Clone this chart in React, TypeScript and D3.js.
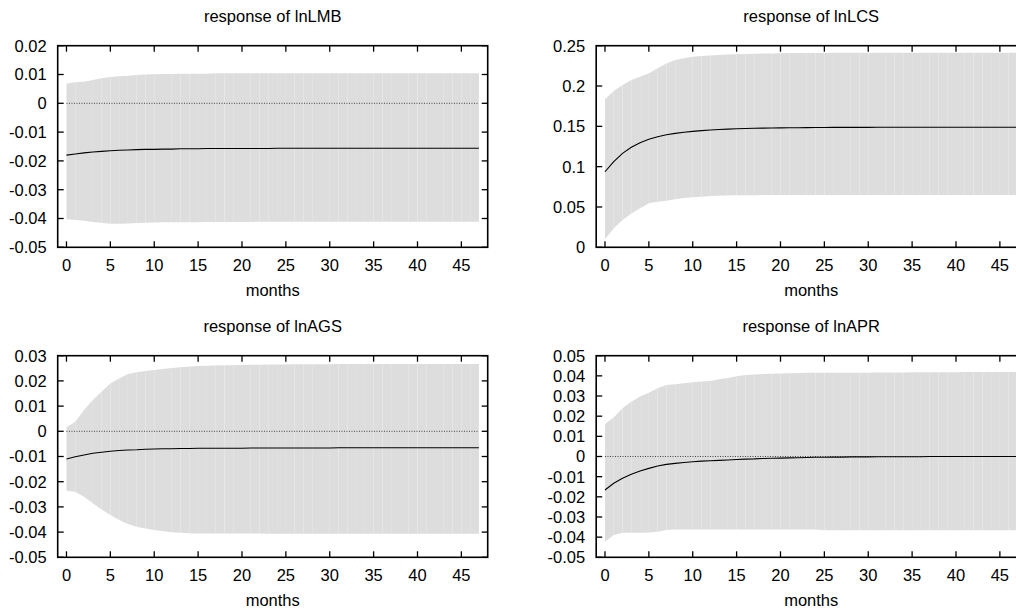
import React from "react";
import * as d3 from "d3";

const horizons: number[] = Array.from({ length: 48 }, (_, i) => i);

const xTicks = [0, 5, 10, 15, 20, 25, 30, 35, 40, 45];

// lnLMB
const lmbLine = [-0.0180, -0.0176, -0.0172, -0.0169, -0.0167, -0.0165, -0.0163, -0.0162, -0.0161, -0.0160, -0.0160, -0.0159, -0.0159, -0.0158, -0.0158, -0.0158, -0.0157, -0.0157, -0.0157, -0.0157, -0.0157, -0.0157, -0.0157, -0.0157, -0.0156, -0.0156, -0.0156, -0.0156, -0.0156, -0.0156, -0.0156, -0.0156, -0.0156, -0.0156, -0.0156, -0.0156, -0.0156, -0.0156, -0.0156, -0.0156, -0.0156, -0.0156, -0.0156, -0.0156, -0.0156, -0.0156, -0.0156, -0.0156];
const lmbUpper = [0.0069, 0.0073, 0.0075, 0.0081, 0.0087, 0.0091, 0.0094, 0.0096, 0.0098, 0.0100, 0.0101, 0.0102, 0.0102, 0.0103, 0.0103, 0.0103, 0.0103, 0.0104, 0.0104, 0.0104, 0.0104, 0.0104, 0.0104, 0.0104, 0.0104, 0.0104, 0.0104, 0.0104, 0.0104, 0.0104, 0.0104, 0.0104, 0.0104, 0.0104, 0.0104, 0.0104, 0.0104, 0.0104, 0.0104, 0.0104, 0.0104, 0.0104, 0.0104, 0.0104, 0.0104, 0.0104, 0.0104, 0.0104];
const lmbLower = [-0.0403, -0.0405, -0.0408, -0.0412, -0.0415, -0.0418, -0.0418, -0.0417, -0.0416, -0.0415, -0.0414, -0.0413, -0.0413, -0.0413, -0.0413, -0.0413, -0.0412, -0.0412, -0.0412, -0.0412, -0.0412, -0.0412, -0.0411, -0.0411, -0.0411, -0.0411, -0.0411, -0.0411, -0.0411, -0.0411, -0.0411, -0.0411, -0.0411, -0.0411, -0.0411, -0.0411, -0.0411, -0.0411, -0.0411, -0.0411, -0.0411, -0.0411, -0.0411, -0.0411, -0.0411, -0.0411, -0.0411, -0.0411];

// lnLCS
const lcsLine = [0.0937, 0.1062, 0.1165, 0.1240, 0.1297, 0.1339, 0.1372, 0.1396, 0.1413, 0.1427, 0.1438, 0.1447, 0.1455, 0.1461, 0.1466, 0.1470, 0.1473, 0.1476, 0.1478, 0.1480, 0.1481, 0.1482, 0.1483, 0.1484, 0.1485, 0.1486, 0.1487, 0.1487, 0.1487, 0.1487, 0.1487, 0.1488, 0.1488, 0.1488, 0.1488, 0.1488, 0.1488, 0.1488, 0.1488, 0.1488, 0.1488, 0.1488, 0.1488, 0.1488, 0.1488, 0.1488, 0.1488, 0.1488];
const lcsUpper = [0.1835, 0.1938, 0.2013, 0.2075, 0.2116, 0.2158, 0.2220, 0.2280, 0.2323, 0.2344, 0.2364, 0.2372, 0.2380, 0.2386, 0.2390, 0.2394, 0.2397, 0.2400, 0.2402, 0.2404, 0.2406, 0.2408, 0.2409, 0.2410, 0.2410, 0.2411, 0.2412, 0.2412, 0.2412, 0.2412, 0.2412, 0.2412, 0.2412, 0.2412, 0.2412, 0.2412, 0.2412, 0.2412, 0.2412, 0.2412, 0.2412, 0.2412, 0.2412, 0.2412, 0.2412, 0.2412, 0.2412, 0.2412];
const lcsLower = [0.0100, 0.0236, 0.0339, 0.0420, 0.0483, 0.0545, 0.0565, 0.0578, 0.0595, 0.0610, 0.0620, 0.0628, 0.0636, 0.0640, 0.0643, 0.0645, 0.0646, 0.0647, 0.0648, 0.0648, 0.0649, 0.0649, 0.0649, 0.0650, 0.0650, 0.0650, 0.0650, 0.0650, 0.0650, 0.0650, 0.0650, 0.0650, 0.0650, 0.0650, 0.0650, 0.0650, 0.0650, 0.0650, 0.0650, 0.0650, 0.0650, 0.0650, 0.0650, 0.0650, 0.0650, 0.0650, 0.0650, 0.0650];

// lnAGS
const agsLine = [-0.0110, -0.0101, -0.0094, -0.0087, -0.0083, -0.0079, -0.0076, -0.0074, -0.0073, -0.0071, -0.0070, -0.0069, -0.0069, -0.0068, -0.0068, -0.0067, -0.0067, -0.0067, -0.0067, -0.0067, -0.0067, -0.0066, -0.0066, -0.0066, -0.0066, -0.0066, -0.0066, -0.0066, -0.0066, -0.0066, -0.0066, -0.0065, -0.0065, -0.0065, -0.0065, -0.0065, -0.0065, -0.0065, -0.0065, -0.0065, -0.0065, -0.0065, -0.0065, -0.0065, -0.0065, -0.0065, -0.0065, -0.0065];
const agsUpper = [0.0016, 0.0038, 0.0085, 0.0124, 0.0157, 0.0190, 0.0210, 0.0227, 0.0234, 0.0239, 0.0243, 0.0247, 0.0251, 0.0254, 0.0257, 0.0259, 0.0260, 0.0261, 0.0262, 0.0262, 0.0263, 0.0264, 0.0264, 0.0265, 0.0265, 0.0265, 0.0266, 0.0266, 0.0266, 0.0266, 0.0266, 0.0267, 0.0267, 0.0267, 0.0267, 0.0267, 0.0267, 0.0267, 0.0267, 0.0267, 0.0267, 0.0267, 0.0267, 0.0267, 0.0267, 0.0267, 0.0267, 0.0267];
const agsLower = [-0.0236, -0.0240, -0.0260, -0.0286, -0.0310, -0.0332, -0.0352, -0.0368, -0.0379, -0.0386, -0.0392, -0.0397, -0.0401, -0.0403, -0.0405, -0.0406, -0.0406, -0.0406, -0.0406, -0.0406, -0.0406, -0.0406, -0.0406, -0.0407, -0.0407, -0.0407, -0.0407, -0.0407, -0.0407, -0.0407, -0.0407, -0.0407, -0.0407, -0.0407, -0.0407, -0.0407, -0.0407, -0.0407, -0.0407, -0.0407, -0.0407, -0.0407, -0.0407, -0.0407, -0.0407, -0.0407, -0.0407, -0.0407];

// lnAPR
const aprLine = [-0.0166, -0.0133, -0.0108, -0.0088, -0.0072, -0.0059, -0.0047, -0.0039, -0.0034, -0.0030, -0.0026, -0.0023, -0.0021, -0.0019, -0.0017, -0.0015, -0.0013, -0.0012, -0.0010, -0.0009, -0.0008, -0.0007, -0.0006, -0.0005, -0.0004, -0.0004, -0.0003, -0.0003, -0.0002, -0.0002, -0.0002, -0.0001, -0.0001, -0.0001, -0.0001, -0.0001, -0.0001, 0.0000, 0.0000, 0.0000, 0.0000, 0.0000, 0.0000, 0.0000, 0.0000, 0.0000, 0.0000, 0.0000];
const aprUpper = [0.0161, 0.0194, 0.0239, 0.0272, 0.0297, 0.0316, 0.0338, 0.0355, 0.0358, 0.0363, 0.0368, 0.0372, 0.0375, 0.0383, 0.0389, 0.0398, 0.0404, 0.0407, 0.0409, 0.0410, 0.0412, 0.0413, 0.0414, 0.0415, 0.0416, 0.0416, 0.0416, 0.0416, 0.0416, 0.0416, 0.0416, 0.0417, 0.0417, 0.0417, 0.0417, 0.0418, 0.0418, 0.0418, 0.0418, 0.0418, 0.0418, 0.0419, 0.0419, 0.0419, 0.0419, 0.0419, 0.0419, 0.0419];
const aprLower = [-0.0423, -0.0389, -0.0378, -0.0378, -0.0378, -0.0377, -0.0373, -0.0364, -0.0362, -0.0362, -0.0362, -0.0362, -0.0362, -0.0362, -0.0362, -0.0362, -0.0362, -0.0362, -0.0362, -0.0362, -0.0362, -0.0362, -0.0362, -0.0362, -0.0362, -0.0366, -0.0366, -0.0366, -0.0366, -0.0366, -0.0366, -0.0366, -0.0366, -0.0366, -0.0366, -0.0366, -0.0366, -0.0366, -0.0366, -0.0366, -0.0366, -0.0366, -0.0366, -0.0366, -0.0366, -0.0366, -0.0366, -0.0366];

const lmbTicks = [-0.05, -0.04, -0.03, -0.02, -0.01, 0, 0.01, 0.02];
const lmbTickLabels = ["-0.05", "-0.04", "-0.03", "-0.02", "-0.01", "0", "0.01", "0.02"];
const lcsTicks = [0, 0.05, 0.1, 0.15, 0.2, 0.25];
const lcsTickLabels = ["0", "0.05", "0.1", "0.15", "0.2", "0.25"];
const agsTicks = [-0.05, -0.04, -0.03, -0.02, -0.01, 0, 0.01, 0.02, 0.03];
const agsTickLabels = ["-0.05", "-0.04", "-0.03", "-0.02", "-0.01", "0", "0.01", "0.02", "0.03"];
const aprTicks = [-0.05, -0.04, -0.03, -0.02, -0.01, 0, 0.01, 0.02, 0.03, 0.04, 0.05];
const aprTickLabels = ["-0.05", "-0.04", "-0.03", "-0.02", "-0.01", "0", "0.01", "0.02", "0.03", "0.04", "0.05"];

const FONT = "'Liberation Sans', Arial, Helvetica, sans-serif";
const FS = 16.5;
const W = 430;
const H = 201.6;

type PanelProps = {
  left: number;
  top: number;
  title: string;
  line: number[];
  upper: number[];
  lower: number[];
  yDomain: [number, number];
  yTicks: number[];
  yLabels: string[];
};

function Panel({ left, top, title, line, upper, lower, yDomain, yTicks, yLabels }: PanelProps) {
  const x = d3.scaleLinear().domain([-1, 48]).range([left, left + W]);
  const y = d3.scaleLinear().domain(yDomain).range([top + H, top]);
  const lineGen = d3
    .line<number>()
    .x((_, i) => x(horizons[i]))
    .y((d) => y(d));
  const segs = horizons.slice(0, -1).map((h, i) => {
    const pts: [number, number][] = [
      [x(h), y(upper[i])],
      [x(h + 1), y(upper[i + 1])],
      [x(h + 1), y(lower[i + 1])],
      [x(h), y(lower[i])],
    ];
    return "M" + pts.map((p) => p.join(",")).join("L") + "Z";
  });
  const tl = 6;
  return (
    <g>
      {segs.map((d, i) => (
        <path key={i} d={d} fill="#dddddd" stroke="none" />
      ))}
      <line
        x1={x(0)}
        x2={x(47)}
        y1={y(0)}
        y2={y(0)}
        stroke="#444"
        strokeWidth={1}
        strokeDasharray="1 1.5"
      />
      <path d={lineGen(line) || ""} fill="none" stroke="#000" strokeWidth={1.1} />
      {xTicks.map((t) => (
        <g key={"x" + t}>
          <line x1={x(t)} x2={x(t)} y1={top + H} y2={top + H - tl} stroke="#000" strokeWidth={1.3} />
          <line x1={x(t)} x2={x(t)} y1={top} y2={top + tl} stroke="#000" strokeWidth={1.3} />
          <text
            x={x(t)}
            y={top + H + 23.5}
            textAnchor="middle"
            fontFamily={FONT}
            fontSize={FS}
            fill="#000"
          >
            {t}
          </text>
        </g>
      ))}
      {yTicks.map((t, i) => (
        <g key={"y" + i}>
          <line x1={left} x2={left + tl} y1={y(t)} y2={y(t)} stroke="#000" strokeWidth={1.3} />
          <line x1={left + W} x2={left + W - tl} y1={y(t)} y2={y(t)} stroke="#000" strokeWidth={1.3} />
          <text
            x={left - 11}
            y={y(t)}
            dy="0.36em"
            textAnchor="end"
            fontFamily={FONT}
            fontSize={FS}
            fill="#000"
          >
            {yLabels[i]}
          </text>
        </g>
      ))}
      <rect x={left} y={top} width={W} height={H} fill="none" stroke="#000" strokeWidth={1.6} />
      <text
        x={left + W / 2}
        y={top - 23.5}
        textAnchor="middle"
        fontFamily={FONT}
        fontSize={FS}
        fill="#000"
      >
        {title}
      </text>
      <text
        x={left + W / 2}
        y={top + H + 49}
        textAnchor="middle"
        fontFamily={FONT}
        fontSize={FS}
        fill="#000"
      >
        months
      </text>
    </g>
  );
}

export default function App() {
  return (
    <svg
      width={1016}
      height={610}
      style={{ position: "absolute", left: 0, top: 0, background: "#fff" }}
    >
      <rect x={0} y={0} width={1016} height={610} fill="#fff" />
      <Panel left={57.7} top={45.7} title="response of lnLMB" line={lmbLine} upper={lmbUpper} lower={lmbLower} yDomain={[-0.05, 0.02]} yTicks={lmbTicks} yLabels={lmbTickLabels} />
      <Panel left={596.2} top={45.7} title="response of lnLCS" line={lcsLine} upper={lcsUpper} lower={lcsLower} yDomain={[0, 0.25]} yTicks={lcsTicks} yLabels={lcsTickLabels} />
      <Panel left={57.7} top={355.7} title="response of lnAGS" line={agsLine} upper={agsUpper} lower={agsLower} yDomain={[-0.05, 0.03]} yTicks={agsTicks} yLabels={agsTickLabels} />
      <Panel left={596.2} top={355.7} title="response of lnAPR" line={aprLine} upper={aprUpper} lower={aprLower} yDomain={[-0.05, 0.05]} yTicks={aprTicks} yLabels={aprTickLabels} />
    </svg>
  );
}
